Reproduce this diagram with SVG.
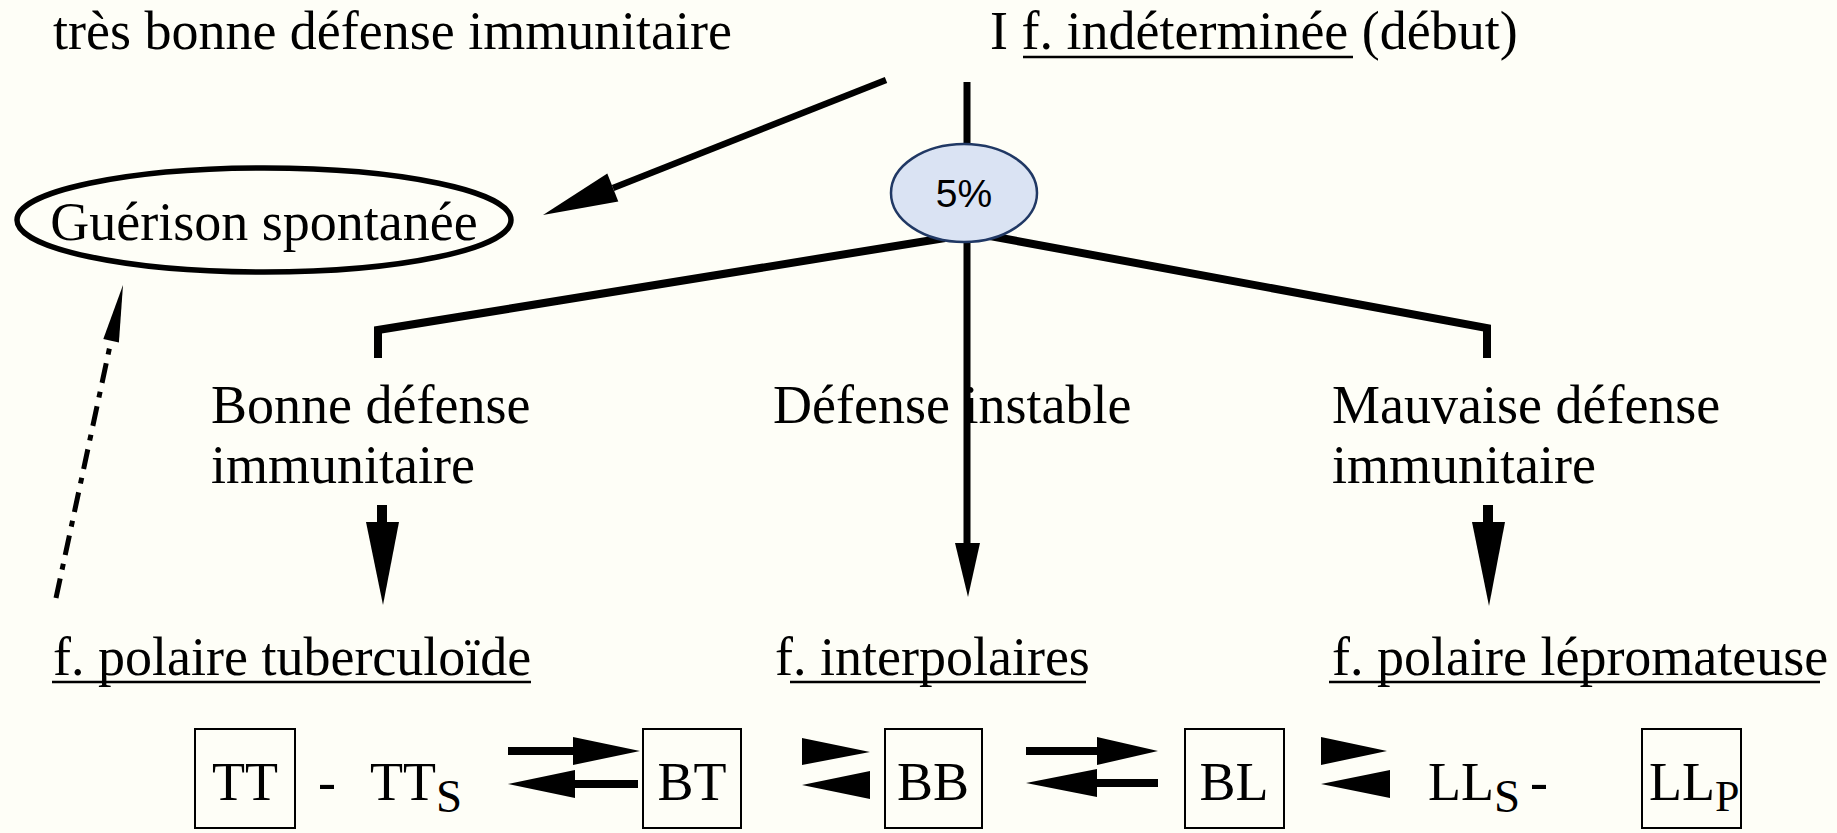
<svg xmlns="http://www.w3.org/2000/svg" width="1837" height="833" viewBox="0 0 1837 833">
  <style>
    .t { font-family: "Liberation Serif", "Times New Roman", serif; font-size: 54px; fill: #000; }
    .sub { font-size: 47px; }
    .u { stroke: #000; stroke-width: 2.5; }
    .box { fill: none; stroke: #000; stroke-width: 2; }
    .ln { fill: none; stroke: #000; stroke-linecap: butt; stroke-linejoin: miter; }
    .hd { fill: #000; stroke: none; }
    .pct { font-family: "Liberation Sans", Arial, sans-serif; font-size: 39px; fill: #000; }
  </style>
  <rect width="1837" height="833" fill="#FEFEF7"/>

  <!-- header texts -->
  <g id="tres-bonne-defense">
    <text class="t" x="53" y="49" textLength="679" lengthAdjust="spacingAndGlyphs">très bonne défense immunitaire</text>
  </g>
  <g id="forme-indeterminee">
    <text class="t" x="990" y="49">I f. indéterminée (début)</text>
    <line class="u" x1="1023" y1="57" x2="1353" y2="57"/>
  </g>

  <!-- spontaneous healing -->
  <g id="guerison">
    <ellipse cx="264" cy="220" rx="247" ry="52" fill="none" stroke="#000" stroke-width="5.5"/>
    <text class="t" x="264" y="240" text-anchor="middle">Guérison spontanée</text>
  </g>

  <!-- immune response branches -->
  <g id="bonne-defense">
    <text class="t" x="211" y="423">Bonne défense</text>
    <text class="t" x="211" y="483">immunitaire</text>
  </g>
  <g id="defense-instable">
    <text class="t" x="773" y="423">Défense instable</text>
  </g>
  <g id="mauvaise-defense">
    <text class="t" x="1332" y="423">Mauvaise défense</text>
    <text class="t" x="1332" y="483">immunitaire</text>
  </g>

  <!-- clinical forms -->
  <g id="polaire-tuberculoide">
    <text class="t" x="53" y="675">f. polaire tuberculoïde</text>
    <line class="u" x1="52" y1="682" x2="531" y2="682"/>
  </g>
  <g id="interpolaires">
    <text class="t" x="775" y="675">f. interpolaires</text>
    <line class="u" x1="790" y1="682" x2="1086" y2="682"/>
  </g>
  <g id="polaire-lepromateuse">
    <text class="t" x="1332" y="675">f. polaire lépromateuse</text>
    <line class="u" x1="1329" y1="682" x2="1820" y2="682"/>
  </g>

  <!-- Ridley-Jopling spectrum -->
  <g id="tt">
    <rect class="box" x="195" y="729" width="100" height="99"/>
    <text class="t" x="245" y="800" text-anchor="middle">TT</text>
  </g>
  <g id="tts">
    <text class="t" x="318" y="800">-</text>
    <text class="t" x="370" y="800">TT<tspan class="sub" dy="12">S</tspan></text>
  </g>
  <g id="bt">
    <rect class="box" x="643" y="729" width="98" height="99"/>
    <text class="t" x="692" y="800" text-anchor="middle">BT</text>
  </g>
  <g id="bb">
    <rect class="box" x="885" y="729" width="97" height="99"/>
    <text class="t" x="933" y="800" text-anchor="middle">BB</text>
  </g>
  <g id="bl">
    <rect class="box" x="1185" y="729" width="99" height="99"/>
    <text class="t" x="1234" y="800" text-anchor="middle">BL</text>
  </g>
  <g id="lls">
    <text class="t" x="1428" y="800">LL<tspan class="sub" dy="12">S</tspan></text>
    <text class="t" x="1530" y="800">-</text>
  </g>
  <g id="llp">
    <rect class="box" x="1642" y="729" width="99" height="99"/>
    <text class="t" x="1649" y="800" font-size="48">LL<tspan font-size="44" dy="11">P</tspan></text>
  </g>

  <!-- connectors -->
  <g id="connectors">
    <!-- towards spontaneous healing -->
    <line class="ln" x1="886" y1="80" x2="613" y2="188" stroke-width="6.5"/>
    <polygon class="hd" points="543,215 607.3,173.5 618.3,201.5"/>
    <!-- main trunk -->
    <line class="ln" x1="967" y1="82" x2="967" y2="546" stroke-width="7"/>
    <polygon class="hd" points="955,543 980,543 968,597"/>
    <!-- side branches -->
    <polyline class="ln" points="945,238 378,330 378,358" stroke-width="8"/>
    <polyline class="ln" points="990,236 1487,328 1487,358" stroke-width="8"/>
    <!-- down arrows -->
    <line class="ln" x1="382" y1="505" x2="382" y2="524" stroke-width="10"/>
    <polygon class="hd" points="366,522 399,522 383,605"/>
    <line class="ln" x1="1488" y1="505" x2="1488" y2="524" stroke-width="10"/>
    <polygon class="hd" points="1472,522 1505,522 1489,606"/>
    <!-- regression towards healing -->
    <line class="ln" x1="56" y1="598" x2="111" y2="341" stroke-width="5" stroke-dasharray="20 9 6 9"/>
    <polygon class="hd" points="123,285 103.3,339 118.9,342.4"/>
    <!-- TT / BT -->
    <rect class="hd" x="508" y="747" width="67" height="8"/>
    <polygon class="hd" points="573,737 640,751 573,765"/>
    <polygon class="hd" points="508,784 575,770 575,798"/>
    <rect class="hd" x="573" y="780" width="65" height="8"/>
    <!-- BT / BB -->
    <polygon class="hd" points="802,738 870,752 802,765"/>
    <polygon class="hd" points="802,785 870,771 870,799"/>
    <!-- BB / BL -->
    <rect class="hd" x="1026" y="747" width="73" height="8"/>
    <polygon class="hd" points="1097,737 1158,751 1097,765"/>
    <polygon class="hd" points="1026,783 1097,769 1097,797"/>
    <rect class="hd" x="1095" y="779" width="63" height="8"/>
    <!-- BL / LLs -->
    <polygon class="hd" points="1321,737 1387,751 1321,765"/>
    <polygon class="hd" points="1321,784 1390,770 1390,798"/>
  </g>

  <!-- percentage badge on the trunk -->
  <g id="pct-5">
    <ellipse cx="964" cy="193" rx="73" ry="49" fill="#DAE3F3" stroke="#203864" stroke-width="2.5"/>
    <text class="pct" x="964" y="207" text-anchor="middle">5%</text>
  </g>
</svg>
